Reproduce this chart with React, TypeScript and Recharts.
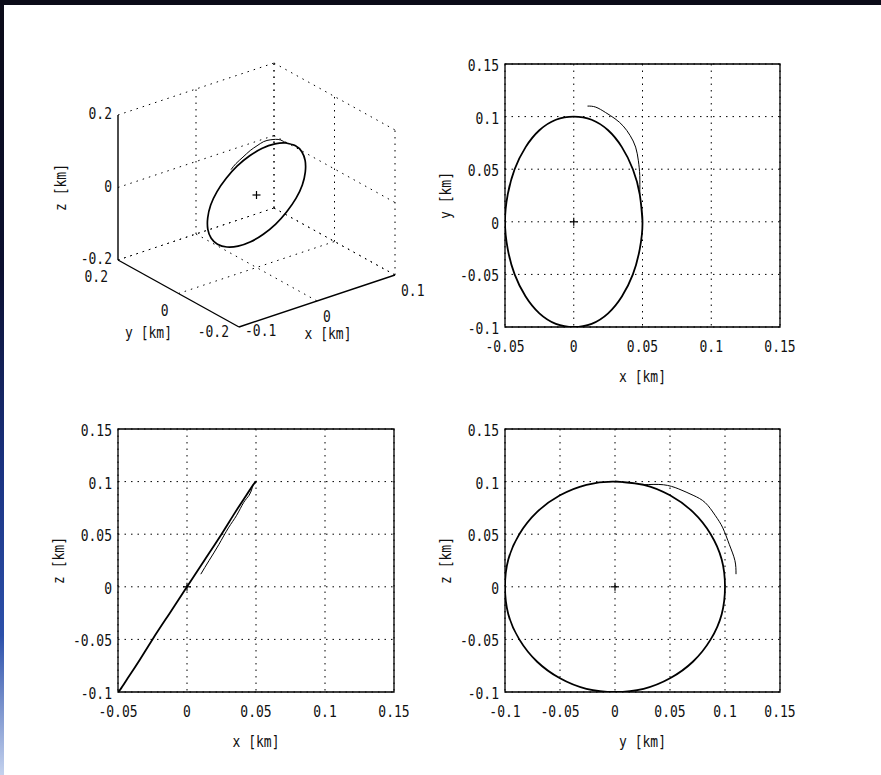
import React from 'react';
import { ScatterChart, Scatter, XAxis, YAxis, CartesianGrid, ReferenceArea } from 'recharts';

// Settled relative orbit, one revolution plus a short overlap (km)
const orbitX = [0.048, 0.05, 0.048, 0.043, 0.035, 0.025, 0.013, 0, -0.013, -0.025, -0.035, -0.043, -0.048, -0.05, -0.048, -0.043, -0.035, -0.025, -0.013, 0, 0.013, 0.025, 0.035, 0.043, 0.048, 0.05];
const orbitY = [0.026, 0, -0.026, -0.05, -0.071, -0.087, -0.097, -0.1, -0.097, -0.087, -0.071, -0.05, -0.026, 0, 0.026, 0.05, 0.071, 0.087, 0.097, 0.1, 0.097, 0.087, 0.071, 0.05, 0.026, 0];
const orbitZ = [0.097, 0.1, 0.097, 0.087, 0.071, 0.05, 0.026, 0, -0.026, -0.05, -0.071, -0.087, -0.097, -0.1, -0.097, -0.087, -0.071, -0.05, -0.026, 0, 0.026, 0.05, 0.071, 0.087, 0.097, 0.1];

// Initial approach arc before the orbit settles (km)
const approachX = [0.01, 0.016, 0.023, 0.03, 0.036, 0.041, 0.045, 0.047, 0.048, 0.048];
const approachY = [0.11, 0.109, 0.104, 0.098, 0.091, 0.082, 0.071, 0.058, 0.044, 0.026];
const approachZ = [0.012, 0.025, 0.04, 0.056, 0.068, 0.08, 0.087, 0.093, 0.097, 0.097];

// Reference point (chief spacecraft) at the origin
const chief = [0, 0, 0];

// 2D tick values
const ticksX2 = [-0.05, 0, 0.05, 0.1, 0.15];
const ticksY2 = [-0.1, -0.05, 0, 0.05, 0.1, 0.15];

// 3D box ticks (also its limits)
const ticksX3 = [-0.1, 0, 0.1];
const ticksY3 = [-0.2, 0, 0.2];
const ticksZ3 = [-0.2, 0, 0.2];

const FONT = '"DejaVu Sans Mono", "Liberation Mono", monospace';
const INK = '#000';
const DOTS = '1.5 5';

const fmt = (v: number) => {
  const r = Math.round(v * 1000) / 1000;
  return r === 0 ? '0' : String(r);
};

function Txt({ x, y, text, anchor = 'middle', rotate = 0 }: any) {
  const rot = rotate ? ` rotate(${rotate})` : '';
  return (
    <text
      transform={`translate(${x},${y})${rot} scale(1,1.25)`}
      textAnchor={anchor}
      dominantBaseline="central"
      fontFamily={FONT}
      fontSize={13}
      fill="#111"
    >
      {text}
    </text>
  );
}

const noDot = () => <g />;

const plusMark = (p: any) => (
  <g stroke={INK} strokeWidth={1.2}>
    <line x1={p.cx - 4} y1={p.cy} x2={p.cx + 4} y2={p.cy} />
    <line x1={p.cx} y1={p.cy - 4} x2={p.cx} y2={p.cy + 4} />
  </g>
);

const pairs = (a: number[], b: number[]) => a.map((v, i) => ({ x: v, y: b[i] }));

// ---------- 2D projection panel ----------
const AX_W = 60;
const AX_H = 50;
const M = 20;

function Panel({ left, top, w, h, hDomain, vDomain, hTicks, vTicks, hLabel, vLabel, loop, approach }: any) {
  const width = w + AX_W + 2 * M;
  const height = h + AX_H + 2 * M;
  return (
    <div style={{ position: 'absolute', left: left - AX_W - M, top: top - M }}>
      <ScatterChart width={width} height={height} margin={{ top: M, right: M, bottom: M, left: M }}>
        <CartesianGrid stroke={INK} strokeDasharray={DOTS} strokeWidth={1} />
        <XAxis
          type="number"
          dataKey="x"
          domain={hDomain}
          ticks={hTicks}
          allowDataOverflow
          height={AX_H}
          axisLine={false}
          tickLine={false}
          tickSize={0}
          tickMargin={0}
          interval={0}
          tick={(p: any) => <Txt x={p.x} y={p.y + 19} text={fmt(p.payload.value)} />}
          label={{
            content: (p: any) => {
              const vb = p.viewBox;
              return <Txt x={vb.x + vb.width / 2} y={vb.y + 49} text={hLabel} />;
            },
          }}
        />
        <YAxis
          type="number"
          dataKey="y"
          domain={vDomain}
          ticks={vTicks}
          allowDataOverflow
          width={AX_W}
          axisLine={false}
          tickLine={false}
          tickSize={0}
          tickMargin={0}
          interval={0}
          tick={(p: any) => <Txt x={p.x - 6} y={p.y + 1} anchor="end" text={fmt(p.payload.value)} />}
          label={{
            content: (p: any) => {
              const vb = p.viewBox;
              return <Txt x={vb.x + vb.width - 60} y={vb.y + vb.height / 2} rotate={-90} text={vLabel} />;
            },
          }}
        />
        <ReferenceArea
          x1={hDomain[0]}
          x2={hDomain[1]}
          y1={vDomain[0]}
          y2={vDomain[1]}
          fill="none"
          fillOpacity={0}
          stroke={INK}
          strokeWidth={1.3}
        />
        <Scatter
          data={approach}
          fill={INK}
          line={{ stroke: INK, strokeWidth: 1 }}
          lineJointType="natural"
          shape={noDot}
          isAnimationActive={false}
        />
        <Scatter
          data={loop}
          fill={INK}
          line={{ stroke: INK, strokeWidth: 1.8 }}
          lineJointType="natural"
          shape={noDot}
          isAnimationActive={false}
        />
        <Scatter data={[{ x: 0, y: 0 }]} fill={INK} shape={plusMark} isAnimationActive={false} />
      </ScatterChart>
    </div>
  );
}

// ---------- 3D view (MATLAB default az -37.5, el 30) ----------
const VIEW = { ox: 256.5, oy: 195, ex: [780, -260], ey: [-302.5, -167.5], ez: [0, -362.5] };
const project = (x: number, y: number, z: number) => ({
  x: VIEW.ox + x * VIEW.ex[0] + y * VIEW.ey[0] + z * VIEW.ez[0],
  y: VIEW.oy + x * VIEW.ex[1] + y * VIEW.ey[1] + z * VIEW.ez[1],
});

function View3D() {
  const W = 435;
  const H = 380;
  const x0 = Math.min(...ticksX3), x1 = Math.max(...ticksX3);
  const y0 = Math.min(...ticksY3), y1 = Math.max(...ticksY3);
  const z0 = Math.min(...ticksZ3), z1 = Math.max(...ticksZ3);

  type Seg = [number[], number[]];
  const axes: Seg[] = [
    [[x0, y1, z0], [x0, y1, z1]],
    [[x0, y1, z0], [x0, y0, z0]],
    [[x0, y0, z0], [x1, y0, z0]],
  ];
  const grid: Seg[] = [];
  ticksZ3.forEach((z) => {
    grid.push([[x0, y1, z], [x1, y1, z]]);
    grid.push([[x1, y1, z], [x1, y0, z]]);
  });
  ticksX3.forEach((x) => {
    if (x === x0) return;
    grid.push([[x, y1, z0], [x, y1, z1]]);
    grid.push([[x, y1, z0], [x, y0, z0]]);
  });
  ticksY3.forEach((y) => {
    grid.push([[x1, y, z0], [x1, y, z1]]);
    if (y !== y0) grid.push([[x0, y, z0], [x1, y, z0]]);
  });
  const segPts = (s: Seg) => s.map((p) => project(p[0], p[1], p[2]));

  const loop = orbitX.map((v, i) => project(v, orbitY[i], orbitZ[i]));
  const approach = approachX.map((v, i) => project(v, approachY[i], approachZ[i]));

  const labels: any[] = [];
  ticksZ3.forEach((z) => {
    const p = project(x0, y1, z);
    labels.push({ ...p, text: fmt(z), anchor: 'end', dx: -6, dy: -2 });
  });
  ticksY3.forEach((y) => {
    const p = project(x0, y, z0);
    labels.push({ ...p, text: fmt(y), anchor: 'end', dx: -10, dy: y === y0 ? 4 : 16 });
  });
  ticksX3.forEach((x) => {
    const p = project(x, y0, z0);
    labels.push({ ...p, text: fmt(x), anchor: 'start', dx: 6, dy: x === x0 ? 3 : 15 });
  });
  const zMid = project(x0, y1, (z0 + z1) / 2);
  labels.push({ ...zMid, text: 'z [km]', anchor: 'middle', dx: -58, dy: 0, rot: -90 });
  const yMid = project(x0, (y0 + y1) / 2, z0);
  labels.push({ ...yMid, text: 'y [km]', anchor: 'middle', dx: -30, dy: 38 });
  const xMid = project((x0 + x1) / 2, y0, z0);
  labels.push({ ...xMid, text: 'x [km]', anchor: 'middle', dx: 11, dy: 32 });

  const labelShape = (p: any) => (
    <Txt
      x={p.cx + p.payload.dx}
      y={p.cy + p.payload.dy}
      anchor={p.payload.anchor}
      rotate={p.payload.rot || 0}
      text={p.payload.text}
    />
  );

  const c = project(chief[0], chief[1], chief[2]);

  return (
    <div style={{ position: 'absolute', left: 0, top: 0 }}>
      <ScatterChart width={W} height={H} margin={{ top: 0, right: 0, bottom: 0, left: 0 }}>
        <XAxis type="number" dataKey="x" domain={[0, W]} allowDataOverflow hide />
        <YAxis type="number" dataKey="y" domain={[0, H]} allowDataOverflow reversed hide />
        {grid.map((s, i) => (
          <Scatter
            key={`g${i}`}
            data={segPts(s)}
            fill={INK}
            line={{ stroke: INK, strokeWidth: 1, strokeDasharray: DOTS }}
            shape={noDot}
            isAnimationActive={false}
          />
        ))}
        {axes.map((s, i) => (
          <Scatter
            key={`a${i}`}
            data={segPts(s)}
            fill={INK}
            line={{ stroke: INK, strokeWidth: 1.4 }}
            shape={noDot}
            isAnimationActive={false}
          />
        ))}
        <Scatter
          data={approach}
          fill={INK}
          line={{ stroke: INK, strokeWidth: 1 }}
          lineJointType="natural"
          shape={noDot}
          isAnimationActive={false}
        />
        <Scatter
          data={loop}
          fill={INK}
          line={{ stroke: INK, strokeWidth: 1.7 }}
          lineJointType="natural"
          shape={noDot}
          isAnimationActive={false}
        />
        <Scatter data={[c]} fill={INK} shape={plusMark} isAnimationActive={false} />
        <Scatter data={labels} fill={INK} shape={labelShape} isAnimationActive={false} />
      </ScatterChart>
    </div>
  );
}

export default function App() {
  return (
    <div
      style={{
        position: 'absolute',
        left: 0,
        top: 0,
        width: 881,
        height: 775,
        background: '#fff',
        overflow: 'hidden',
      }}
    >
      <div style={{ position: 'absolute', left: 0, top: 0, width: 881, height: 5, background: '#0b0b18' }} />
      <div
        style={{
          position: 'absolute',
          left: 0,
          top: 0,
          width: 4,
          height: 775,
          background:
            'linear-gradient(to bottom, #0b0b18 0%, #0c1030 35%, #1a3280 60%, #2c50aa 82%, #c4d2ee 100%)',
        }}
      />
      <View3D />
      <Panel
        left={505}
        top={64}
        w={275}
        h={263}
        hDomain={[-0.05, 0.15]}
        vDomain={[-0.1, 0.15]}
        hTicks={ticksX2}
        vTicks={ticksY2}
        hLabel="x [km]"
        vLabel="y [km]"
        loop={pairs(orbitX, orbitY)}
        approach={pairs(approachX, approachY)}
      />
      <Panel
        left={118}
        top={429}
        w={276}
        h={263}
        hDomain={[-0.05, 0.15]}
        vDomain={[-0.1, 0.15]}
        hTicks={ticksX2}
        vTicks={ticksY2}
        hLabel="x [km]"
        vLabel="z [km]"
        loop={pairs(orbitX, orbitZ)}
        approach={pairs(approachX, approachZ)}
      />
      <Panel
        left={505}
        top={429}
        w={275}
        h={263}
        hDomain={[-0.1, 0.15]}
        vDomain={[-0.1, 0.15]}
        hTicks={ticksY2}
        vTicks={ticksY2}
        hLabel="y [km]"
        vLabel="z [km]"
        loop={pairs(orbitY, orbitZ)}
        approach={pairs(approachY, approachZ)}
      />
    </div>
  );
}
